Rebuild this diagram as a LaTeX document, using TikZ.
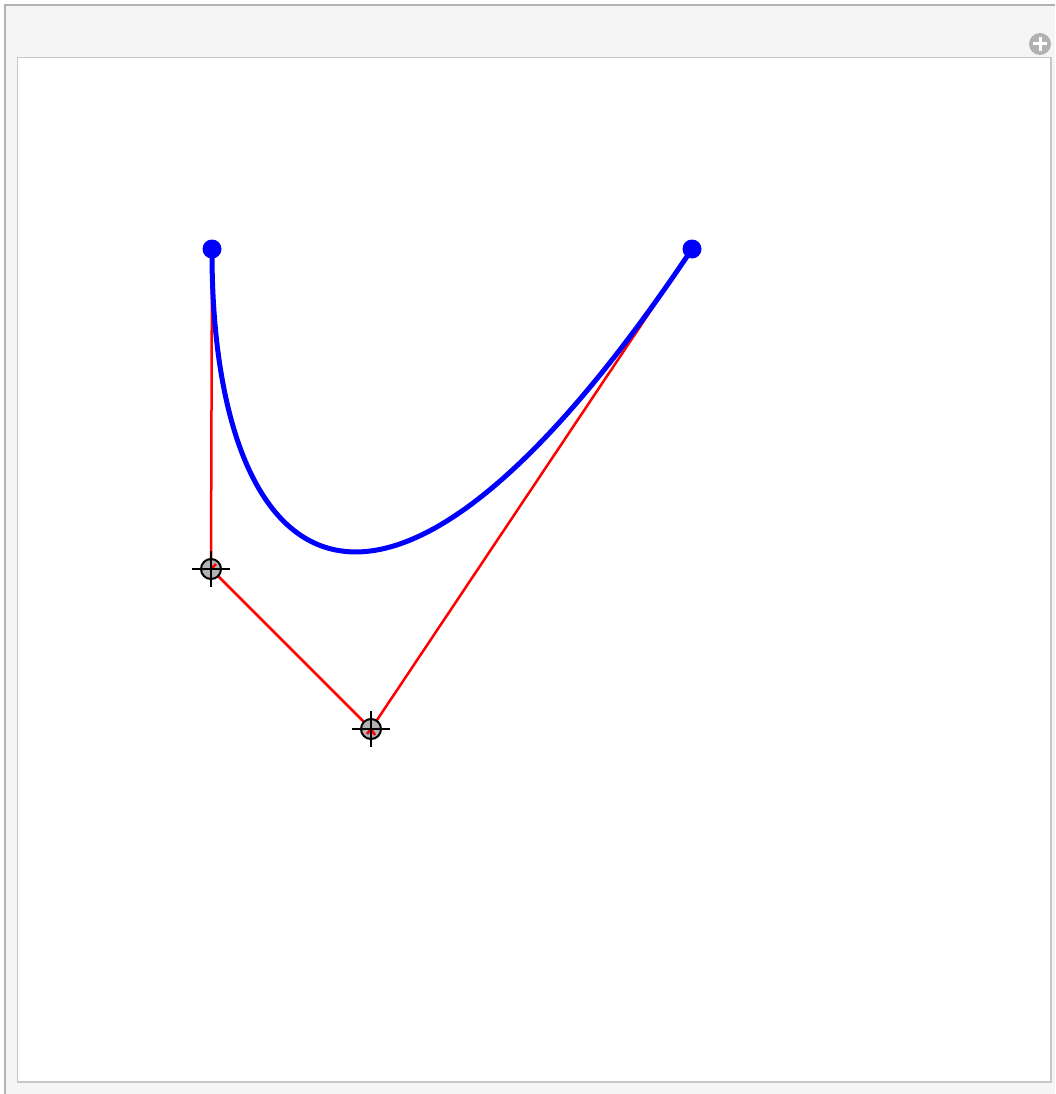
\documentclass[tikz,border=0pt]{standalone}
\begin{document}
\begin{tikzpicture}[x=1pt,y=-1pt,
  ctrl/.style={red,line width=2.5pt},
  curve/.style={blue,line width=5pt},
  endpt/.style={circle,fill=blue,inner sep=0pt,minimum size=19pt},
  locator/.style={circle,draw=black,fill=black!30,line width=2pt,inner sep=0pt,minimum size=20pt}]
\useasboundingbox (0,0) rectangle (1055,1094);
\fill[white] (0,0) rectangle (1055,1094);
\fill[black!4] (5,5) rectangle (1055,1094);
\draw[black!30,line width=2pt] (5,1094) -- (5,5) -- (1055,5);
\draw[black!22,line width=1.5pt,fill=white] (17.5,57.5) rectangle (1051,1082);
% plus icon
\node[circle,fill=black!30,inner sep=0pt,minimum size=22pt] (plus) at (1040,44) {};
\draw[white,line width=3pt] (1033,44) -- (1047,44) (1040,37) -- (1040,51);
% points
\coordinate (p0) at (212,249);
\coordinate (p1) at (211,569);
\coordinate (p2) at (371,729);
\coordinate (p3) at (692,249);
\draw[ctrl] (p0) -- (p1) -- (p2) -- (p3);
\draw[curve] (p0) .. controls (p1) and (p2) .. (p3);
\node[endpt] (e0) at (p0) {};
\node[endpt] (e3) at (p3) {};
\node[locator] (l1) at (p1) {};
\node[locator] (l2) at (p2) {};
\draw[red,line width=2.5pt] (l1.center) -- ([shift={(5pt,5pt)}]l1.center);
\draw[red,line width=2.5pt] ([shift={(-4pt,-5pt)}]l2.center) -- (l2.center) -- ([shift={(4pt,-6pt)}]l2.center);
\foreach \c in {l1,l2}{
  \draw[black,line width=2pt] ([xshift=-19pt]\c.center) -- ([xshift=19pt]\c.center);
  \draw[black,line width=2pt] ([yshift=-18pt]\c.center) -- ([yshift=18pt]\c.center);
}
\end{tikzpicture}
\end{document}
